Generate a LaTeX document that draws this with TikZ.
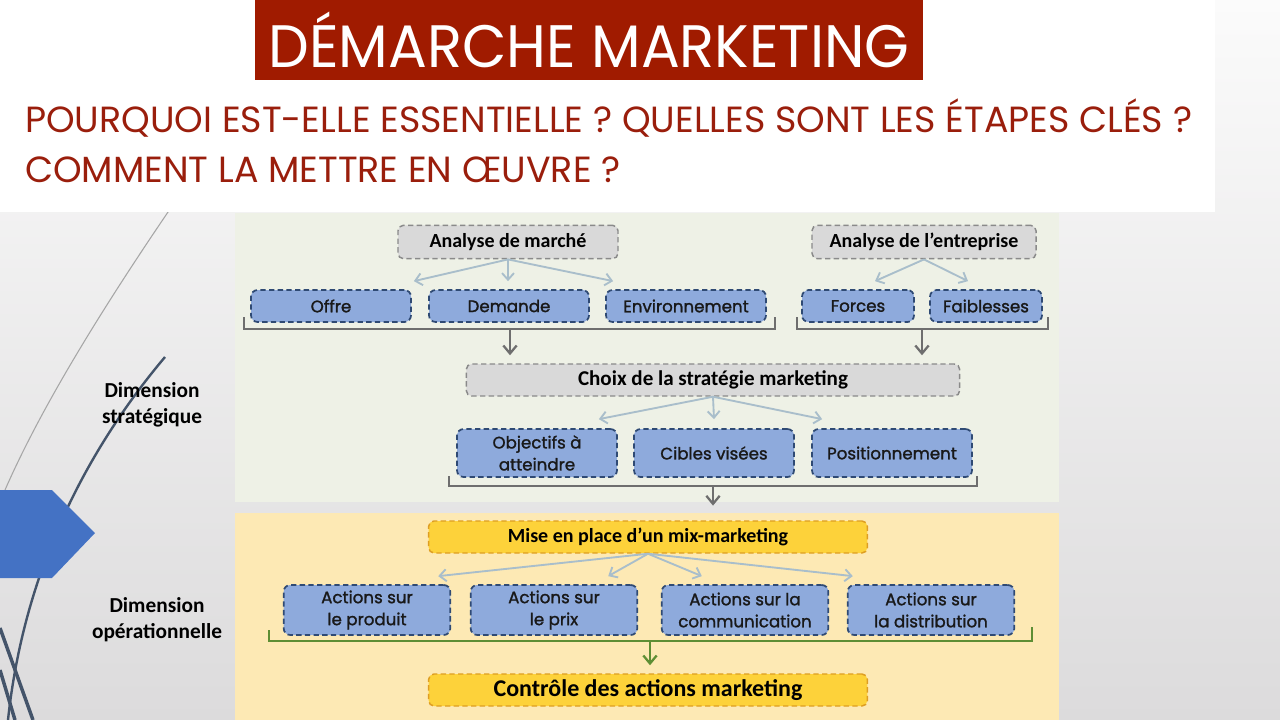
\documentclass[tikz,border=0pt]{standalone}
\usepackage{fontspec}
\setmainfont{Carlito}
\newfontfamily\geo{Poppins}
\newfontfamily\geobold{Poppins}[FakeBold=1.4]
\usetikzlibrary{arrows.meta,positioning}
\definecolor{titlered}{HTML}{A01B00}
\definecolor{subred}{HTML}{9A1E0C}
\definecolor{bgtop}{HTML}{FBFBFB}
\definecolor{bgbottom}{HTML}{DCDBDC}
\definecolor{greenpanel}{HTML}{EEF1E6}
\definecolor{yellowpanel}{HTML}{FDE9B4}
\definecolor{greyfill}{HTML}{D9D9D9}
\definecolor{greyline}{HTML}{8A8A8A}
\definecolor{bluefill}{HTML}{8EAADC}
\definecolor{blueline}{HTML}{2F4A74}
\definecolor{yellowfill}{HTML}{FDD23A}
\definecolor{orangeline}{HTML}{DE9E22}
\definecolor{lightarrow}{HTML}{A9BECB}
\definecolor{darkarrow}{HTML}{6E6E6E}
\definecolor{greenline}{HTML}{5E8E34}
\definecolor{slateline}{HTML}{44546A}
\definecolor{pentblue}{HTML}{4472C4}

\begin{document}
\begin{tikzpicture}[x=0.75pt,y=-0.75pt,
        greybox/.style={draw=greyline,fill=greyfill,dash pattern=on 4pt off 2.5pt,line width=1.1pt,
            rounded corners=4pt,font=\bfseries\fontsize{15}{16}\selectfont,minimum height=25pt,inner sep=0pt},
        bluebox/.style={draw=blueline,fill=bluefill,dash pattern=on 4pt off 2.5pt,line width=1.3pt,
            rounded corners=5pt,font=\geobold\fontsize{12.5}{16.5}\selectfont,text=black!90,align=center,
            minimum width=120pt,minimum height=24pt,inner sep=0pt},
        yellowbox/.style={draw=orangeline,fill=yellowfill,dash pattern=on 4pt off 2.5pt,line width=1.1pt,
            rounded corners=4pt,minimum width=329pt,minimum height=24pt,inner sep=0pt},
        lightarr/.style={draw=lightarrow,line width=1.4pt,-{Straight Barb[length=5pt,width=9pt]}},
        darkarr/.style={draw=darkarrow,line width=1.7pt,-{Straight Barb[length=6pt,width=10pt]}},
        bracket/.style={draw=darkarrow,line width=1.3pt},
        dimlabel/.style={font=\bfseries\fontsize{16}{19.5}\selectfont,align=center}]
                    \useasboundingbox (0,0) rectangle (1280,720);
                    \shade[top color=bgtop,bottom color=bgbottom] (0,0) rectangle (1280,720);
                    \draw[black!35,line width=0.8pt] (190,180) .. controls (100,310) and (40,410) .. (5,490);
                    \draw[slateline,line width=1.8pt] (165,357) .. controls (95,440) and (25,560) .. (8,720);
                    \draw[slateline,line width=2.6pt] (0,628) -- (33,720);
                    \draw[slateline,line width=2.6pt] (0,670) -- (15,720);
                    \fill[pentblue] (0,490) -- (52,490) -- (95,533) -- (52,578) -- (0,578) -- cycle;
                    \fill[white] (0,0) rectangle (1215,212);
                    \fill[greenpanel] (235,213) rectangle (1059,502);
                    \fill[yellowpanel] (235,513) rectangle (1059,720);

                    \node[fill=titlered,text=white,minimum width=501pt,minimum height=60pt,inner sep=0pt] (titre) at (589,40)
                        {\geo\fontsize{43.2}{43}\selectfont\scalebox{1}[1.04]{DÉMARCHE MARKETING}};
                    \node[anchor=west,text=subred,inner sep=0pt,font=\geo\fontsize{27.3}{28}\selectfont] (question) at (25,118)
                        {POURQUOI EST-ELLE ESSENTIELLE ? QUELLES SONT LES ÉTAPES CLÉS ?};
                    \node[anchor=west,text=subred,inner sep=0pt,font=\geo\fontsize{27.3}{28}\selectfont] (oeuvre) at (25,170)
                        {COMMENT LA METTRE EN ŒUVRE ?};

                    \node[dimlabel] (strat) at (152,405) {Dimension\\stratégique};
                    \node[dimlabel] (oper) at (157,620) {Dimension\\opérationnelle};

                    \node[greybox,minimum width=165pt] (marche) at (508,242) {Analyse de marché};
                    \node[greybox,minimum width=168pt] (entreprise) at (924,242) {Analyse de l’entreprise};
                    \node[bluebox] (offre) at (331,306) {Offre};
                    \node[bluebox] (demande) at (509,306) {Demande};
                    \node[bluebox] (environnement) at (686,306) {Environnement};
                    \node[bluebox,minimum width=84pt] (forces) at (858,306) {Forces};
                    \node[bluebox,minimum width=84pt] (faiblesses) at (986,306) {Faiblesses};
                    \node[greybox,minimum width=370pt,minimum height=24pt,font=\bfseries\fontsize{15.8}{17}\selectfont] (choix) at (713,380) {Choix de la stratégie marketing};
                    \node[bluebox,minimum height=36pt] (objectifs) at (537,453) {Objectifs à\\atteindre};
                    \node[bluebox,minimum height=36pt] (cibles) at (714,453) {Cibles visées};
                    \node[bluebox,minimum height=36pt] (positionnement) at (892,453) {Positionnement};
                    \node[yellowbox,font=\bfseries\fontsize{15}{16}\selectfont] (mix) at (648,537) {Mise en place d’un mix-marketing};
                    \node[bluebox,minimum width=125pt,minimum height=37.5pt] (produit) at (367,610) {Actions sur\\le produit};
                    \node[bluebox,minimum width=125pt,minimum height=37.5pt] (prix) at (554,610) {Actions sur\\le prix};
                    \node[bluebox,minimum width=125pt,minimum height=37.5pt] (communication) at (745,610) {Actions sur la\\communication};
                    \node[bluebox,minimum width=125pt,minimum height=37.5pt] (distribution) at (931,610) {Actions sur\\la distribution};
                    \node[yellowbox,font=\bfseries\fontsize{18}{19}\selectfont] (controle) at (648,690) {Contrôle des actions marketing};

                    \draw[lightarr] (marche.south) -- ([shift={(2,-8)}]offre.north east);
                    \draw[lightarr] (marche.south) -- ([shift={(-1,-8)}]demande.north);
                    \draw[lightarr] (marche.south) -- ([shift={(8,-8)}]environnement.north west);
                    \draw[lightarr] (entreprise.south) -- ([shift={(17,-8)}]forces.north);
                    \draw[lightarr] (entreprise.south) -- ([shift={(-18,-8)}]faiblesses.north);

                    \draw[bracket] (244,317) |- (775,329) -- (775,317);
                    \draw[bracket] (797,317) |- (1048,329) -- (1048,317);
                    \coordinate (brmarche) at (510,329);
                    \coordinate (brentreprise) at (922,329);
                    \draw[darkarr,shorten >=6pt] (brmarche) -- (brmarche |- choix.north);
                    \draw[darkarr,shorten >=6pt] (brentreprise) -- (brentreprise |- choix.north);

                    \draw[lightarr] (choix.south) -- ([shift={(-19,-9)}]objectifs.north east);
                    \draw[lightarr] (choix.south) -- ([shift={(0,-9)}]cibles.north);
                    \draw[lightarr] (choix.south) -- ([shift={(11,-9)}]positionnement.north west);

                    \draw[bracket] (449,476) |- (977,486) -- (977,476);
                    \coordinate (brchoix) at (713,486);
                    \draw[darkarr,shorten >=11pt] (brchoix) -- (brchoix |- mix.north);

                    \draw[lightarr] (mix.south) -- ([shift={(-13,-8)}]produit.north east);
                    \draw[lightarr] (mix.south) -- ([shift={(-30,-8)}]prix.north east);
                    \draw[lightarr] (mix.south) -- ([shift={(41,-8)}]communication.north west);
                    \draw[lightarr] (mix.south) -- ([shift={(6,-8)}]distribution.north west);

                    \draw[bracket,draw=greenline] (269,630) |- (1032,641) -- (1032,627);
                    \coordinate (brmix) at (650,641);
                    \draw[darkarr,draw=greenline,shorten >=6pt] (brmix) -- (brmix |- controle.north);
                \end{tikzpicture}
\end{document}
